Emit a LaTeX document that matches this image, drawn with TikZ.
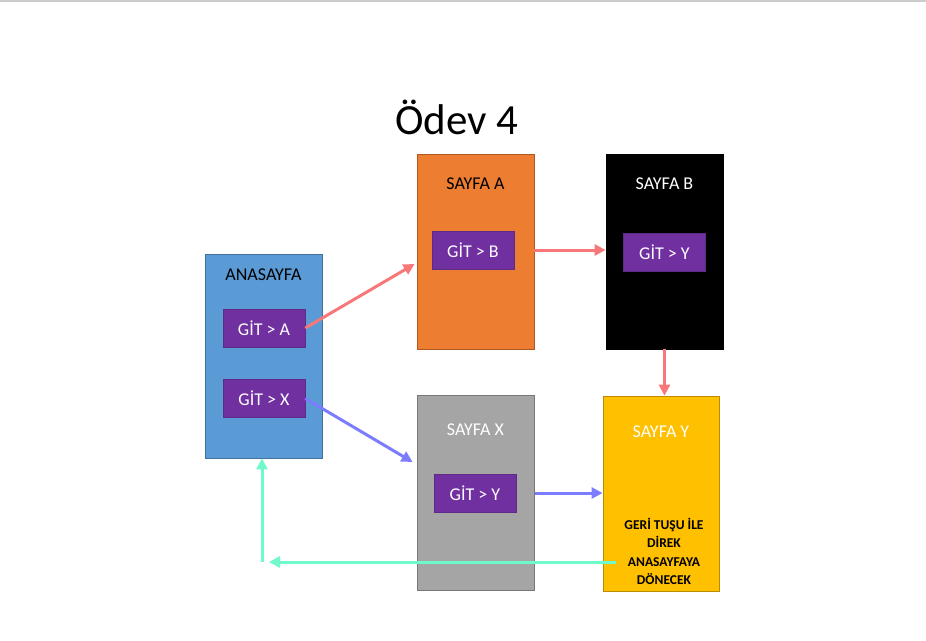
\documentclass[tikz,border=0pt]{standalone}
\usepackage{fontspec}
\setmainfont{Carlito}
\usetikzlibrary{arrows.meta,calc}
\definecolor{cblue}{HTML}{5B9BD5}
\definecolor{cblueb}{HTML}{41719C}
\definecolor{corange}{HTML}{ED7D31}
\definecolor{corangeb}{HTML}{AE5A21}
\definecolor{cgray}{HTML}{A5A5A5}
\definecolor{cgrayb}{HTML}{787878}
\definecolor{cyellow}{HTML}{FFC000}
\definecolor{cyellowb}{HTML}{BC8C00}
\definecolor{cpurple}{HTML}{7030A0}
\definecolor{cpurpleb}{HTML}{5E2A87}
\definecolor{csalmon}{HTML}{F8787A}
\definecolor{cviolet}{HTML}{7C7CFF}
\definecolor{ccyan}{HTML}{70FACB}
\tikzset{
  page/.style={rectangle, minimum width=117pt, minimum height=195pt, line width=0.8pt, inner sep=0pt},
  gitbox/.style={rectangle, fill=cpurple, draw=cpurpleb, line width=0.6pt, minimum width=82pt, minimum height=38pt, inner sep=0pt, text=white, font=\fontsize{18}{20}\selectfont},
  pagelabel/.style={inner sep=0pt, font=\fontsize{18}{20}\selectfont},
  conn/.style={line width=3pt, -{Triangle[length=11pt,width=11pt]}},
}
\begin{document}
\begin{tikzpicture}[x=1pt,y=-1pt]
\useasboundingbox (0,0) rectangle (926,640);
\draw[gray!40, line width=1.5pt] (0,0.75) -- (926,0.75);
\node[inner sep=0pt, font=\fontsize{43}{46}\selectfont] (title) at (457,117) {Ödev 4};
% pages
\node[page, fill=cblue, draw=cblueb, minimum height=204pt] (home) at (263.5,356) {};
\node[page, fill=corange, draw=corangeb] (sA) at (475.5,251.5) {};
\node[page, fill=black, draw=black] (sB) at (664.5,251.5) {};
\node[page, fill=cgray, draw=cgrayb] (sX) at (475.5,493) {};
\node[page, fill=cyellow, draw=cyellowb, minimum width=116pt] (sY) at (661,493.5) {};
% labels
\node[pagelabel, text=black] (lHome) at ([yshift=-21pt]home.north) {ANASAYFA};
\node[pagelabel, text=black] (lA) at ([yshift=-30pt]sA.north) {SAYFA A};
\node[pagelabel, text=white] (lB) at ([yshift=-30pt]sB.north) {SAYFA B};
\node[pagelabel, text=white] (lX) at ([yshift=-35pt]sX.north) {SAYFA X};
\node[pagelabel, text=white] (lY) at ([yshift=-36pt]sY.north) {SAYFA Y};
\node[inner sep=0pt, align=center, font=\bfseries\fontsize{13.5}{18.3}\selectfont] (note) at (664,551.5) {GERİ TUŞU İLE\\DİREK\\ANASAYFAYA\\DÖNECEK};
% buttons
\node[gitbox] (gitA) at (264,328) {GİT > A};
\node[gitbox] (gitX) at (264,398.5) {GİT > X};
\node[gitbox] (gitB) at (473,250) {GİT > B};
\node[gitbox] (gitYB) at (664.5,252) {GİT > Y};
\node[gitbox] (gitYX) at (475,493) {GİT > Y};
% connectors
\draw[conn, csalmon] (gitA.east) -- ([xshift=-2pt,yshift=-12.5pt]sA.west);
\draw[conn, csalmon] (sA.east |- gitB.east) -- (sB.west |- gitB.east);
\draw[conn, csalmon] (sB.south) -- (sB.south |- sY.north);
\draw[conn, cviolet] (gitX.east) -- ([xshift=-4pt,yshift=31pt]sX.west);
\draw[conn, cviolet] ([xshift=1pt]sX.east |- gitYX.east) -- (sY.west |- gitYX.east);
\coordinate (corner) at (262,562);
\draw[conn, ccyan] ([xshift=13pt]sY.west |- corner) -- ([xshift=7pt]corner);
\draw[conn, ccyan] (corner) -- (home.south -| corner);
\end{tikzpicture}
\end{document}
